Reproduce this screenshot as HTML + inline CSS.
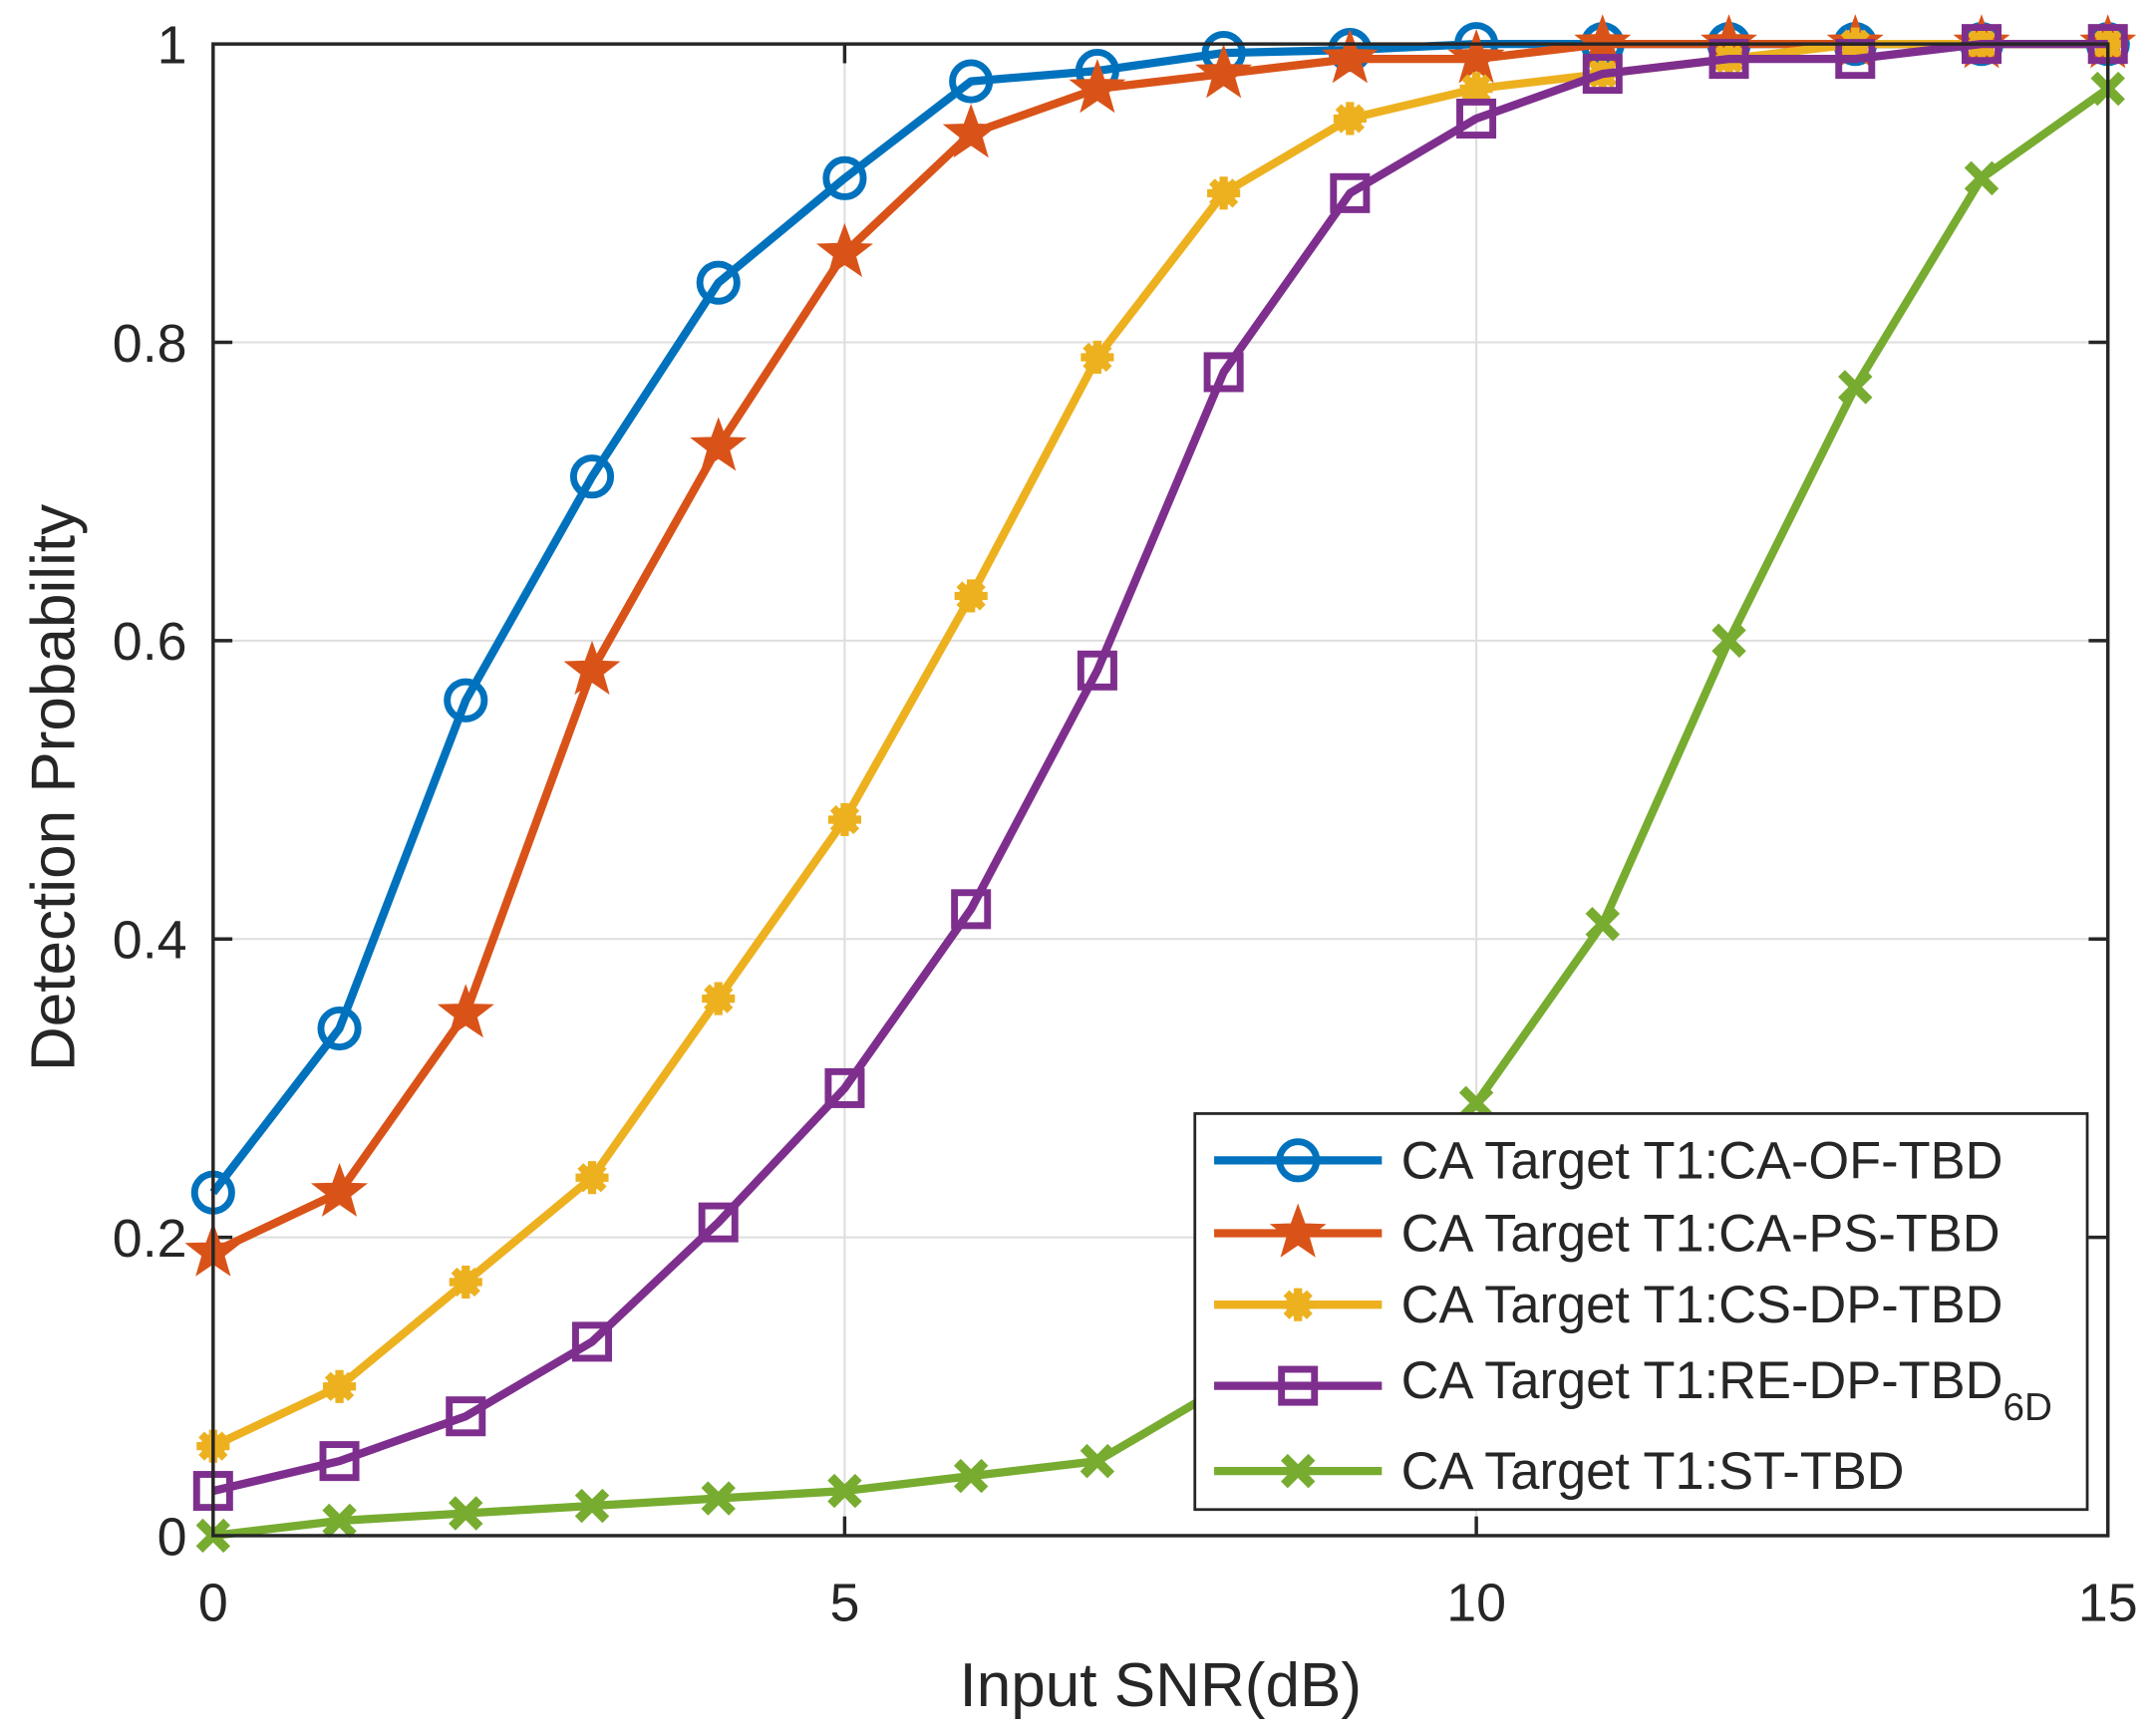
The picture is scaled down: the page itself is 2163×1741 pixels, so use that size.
<!DOCTYPE html>
<html><head><meta charset="utf-8"><style>
html,body{margin:0;padding:0;background:#fff}
svg{display:block}
text{font-family:"Liberation Sans",sans-serif;fill:#262626}
</style></head><body>
<svg id="s" width="2163" height="1741" viewBox="0 0 1568 1262" preserveAspectRatio="none" xmlns="http://www.w3.org/2000/svg">
<rect x="0" y="0" width="1568" height="1262" fill="#fff"/>
<g stroke="#dedede" stroke-width="1.5">
<line x1="614.3" y1="32" x2="614.3" y2="1117"/>
<line x1="1073.7" y1="32" x2="1073.7" y2="1117"/>
<line x1="155" y1="900" x2="1533" y2="900"/>
<line x1="155" y1="683" x2="1533" y2="683"/>
<line x1="155" y1="466" x2="1533" y2="466"/>
<line x1="155" y1="249" x2="1533" y2="249"/>
</g>
<g stroke="#262626" stroke-width="2.5">
<line x1="614.3" y1="1117" x2="614.3" y2="1103"/><line x1="1073.7" y1="1117" x2="1073.7" y2="1103"/>
<line x1="614.3" y1="32" x2="614.3" y2="46"/><line x1="1073.7" y1="32" x2="1073.7" y2="46"/>
<line x1="155" y1="900" x2="169" y2="900"/><line x1="155" y1="683" x2="169" y2="683"/><line x1="155" y1="466" x2="169" y2="466"/><line x1="155" y1="249" x2="169" y2="249"/>
<line x1="1533" y1="900" x2="1519" y2="900"/><line x1="1533" y1="683" x2="1519" y2="683"/><line x1="1533" y1="466" x2="1519" y2="466"/><line x1="1533" y1="249" x2="1519" y2="249"/>
</g>
<g id="series"></g>
<rect x="155" y="32" width="1378" height="1085" fill="none" stroke="#262626" stroke-width="2.5"/>
<g font-size="39" text-anchor="end">
<text x="136" y="1131">0</text><text x="136" y="914">0.2</text><text x="136" y="697">0.4</text><text x="136" y="480">0.6</text><text x="136" y="263">0.8</text><text x="136" y="46">1</text>
</g>
<g font-size="39" text-anchor="middle">
<text x="155" y="1179">0</text><text x="614.3" y="1179">5</text><text x="1073.7" y="1179">10</text><text x="1533" y="1179">15</text>
</g>
<text x="844" y="1241" font-size="45" text-anchor="middle">Input SNR(dB)</text>
<text transform="translate(54,573) rotate(-90)" font-size="45" text-anchor="middle">Detection Probability</text>
<rect x="869" y="810" width="649" height="288" fill="#fff" stroke="#262626" stroke-width="2"/>
<g id="leg"></g>
<g font-size="38">
<text x="1019" y="857">CA Target T1:CA-OF-TBD</text>
<text x="1019" y="910">CA Target T1:CA-PS-TBD</text>
<text x="1019" y="962">CA Target T1:CS-DP-TBD</text>
<text x="1019" y="1017">CA Target T1:RE-DP-TBD<tspan font-size="28" dy="16">6D</tspan></text>
<text x="1019" y="1083">CA Target T1:ST-TBD</text>
</g>
</svg>
<script>
const NS="http://www.w3.org/2000/svg";
const X=v=>155+v*91.867, Y=v=>1117-v*1085;
const S=[
["#0072BD","o",[0.23,0.34,0.56,0.71,0.84,0.91,0.975,0.982,0.994,0.996,1,1,1,1,1,1]],
["#D95319","star",[0.19,0.23,0.35,0.58,0.73,0.86,0.94,0.97,0.98,0.99,0.99,1,1,1,1,1]],
["#EDB120","ast",[0.06,0.10,0.17,0.24,0.36,0.48,0.63,0.79,0.90,0.95,0.97,0.98,0.99,1,1,1]],
["#7E2F8E","sq",[0.03,0.05,0.08,0.13,0.21,0.30,0.42,0.58,0.78,0.90,0.95,0.98,0.99,0.99,1,1]],
["#77AC30","x",[0,0.01,0.015,0.02,0.025,0.03,0.04,0.05,0.10,0.19,0.29,0.41,0.60,0.77,0.91,0.97]]];
function el(t,a,p){const e=document.createElementNS(NS,t);for(const k in a)e.setAttribute(k,a[k]);p.appendChild(e);return e;}
function mk(g,type,c,x,y){
 if(type=="o")el("circle",{cx:x,cy:y,r:13.5,fill:"none",stroke:c,"stroke-width":5},g);
 else if(type=="star"){let p=[];for(let i=0;i<10;i++){const r=i%2?8:19.5,a=-Math.PI/2+i*Math.PI/5;p.push((x+r*Math.cos(a)).toFixed(1)+","+(y+r*Math.sin(a)).toFixed(1));}
  el("polygon",{points:p.join(" "),fill:c,stroke:c,"stroke-width":1.5},g);}
 else if(type=="ast"){for(let i=0;i<4;i++){const a=i*Math.PI/4,r=12;el("line",{x1:x-r*Math.cos(a),y1:y-r*Math.sin(a),x2:x+r*Math.cos(a),y2:y+r*Math.sin(a),stroke:c,"stroke-width":6},g);}el("circle",{cx:x,cy:y,r:9,fill:c},g);}
 else if(type=="sq")el("rect",{x:x-12,y:y-12,width:24,height:24,fill:"none",stroke:c,"stroke-width":5},g);
 else{const r=10;el("line",{x1:x-r,y1:y-r,x2:x+r,y2:y+r,stroke:c,"stroke-width":7},g);el("line",{x1:x-r,y1:y+r,x2:x+r,y2:y-r,stroke:c,"stroke-width":7},g);}
}
const g=document.getElementById("series"),L=document.getElementById("leg");
const ly=[844,897,949,1008,1070];
S.forEach((s,i)=>{
 el("polyline",{points:s[2].map((v,k)=>X(k)+","+Y(v)).join(" "),fill:"none",stroke:s[0],"stroke-width":6,"stroke-linejoin":"round"},g);
 s[2].forEach((v,k)=>mk(g,s[1],s[0],X(k),Y(v)));
 el("line",{x1:883,y1:ly[i],x2:1005,y2:ly[i],stroke:s[0],"stroke-width":6},L);
 mk(L,s[1],s[0],944,ly[i]);
});
</script>
</body></html>
